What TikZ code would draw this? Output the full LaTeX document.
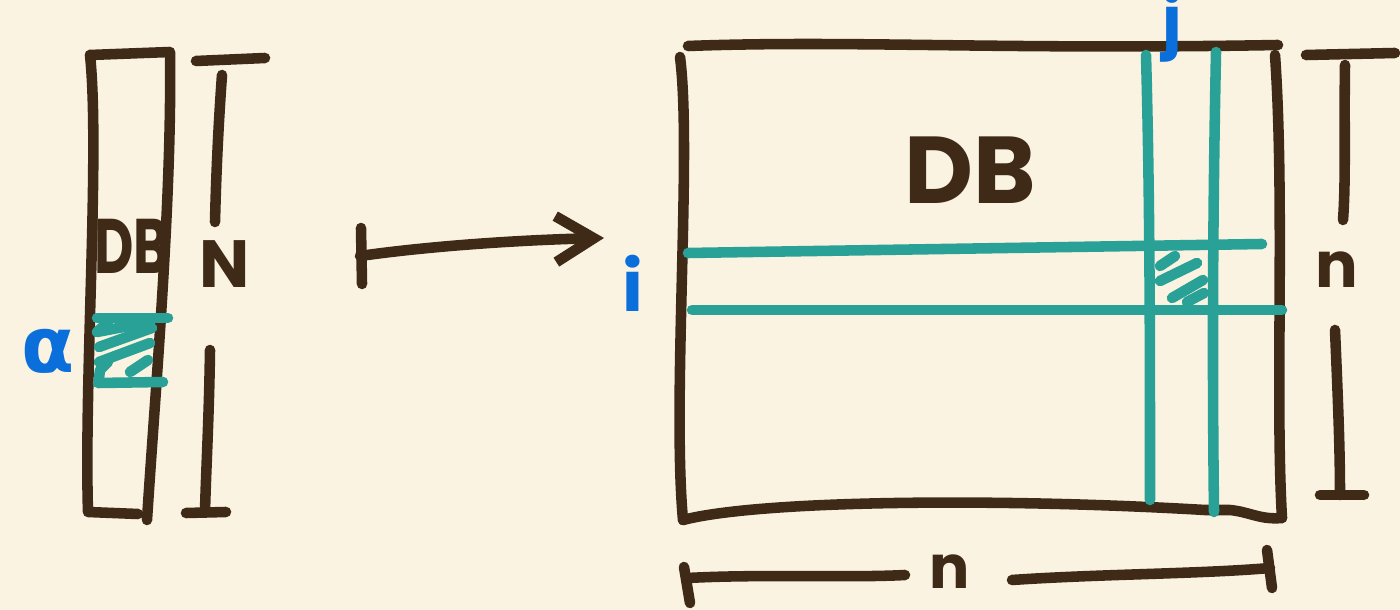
\documentclass[tikz,border=0pt]{standalone}
\usepackage{fontspec}
\newfontfamily\handfont{Poppins}
\newfontfamily\greekfont{DejaVu Sans}
\definecolor{Bgcol}{HTML}{FAF3E1}
\definecolor{Inkcol}{HTML}{3F2A18}
\definecolor{Gridcol}{HTML}{2AA196}
\definecolor{Idxcol}{HTML}{0A6EDB}
\usetikzlibrary{arrows.meta, positioning}
\tikzset{
    >=Stealth,
    ink/.style={draw=Inkcol, line width=3pt, line cap=round, line join=round},
    gridline/.style={draw=Gridcol, line width=3pt, line cap=round, line join=round},
    hand/.style={text=Inkcol, font=\handfont\bfseries, inner sep=0pt},
    index/.style={text=Idxcol, font=\handfont\bfseries, inner sep=0pt}
}

\begin{document}
\begin{tikzpicture}[x=0.01cm, y=-0.01cm]
    % Paper
    \fill[Bgcol] (0,0) rectangle (1400,610);
    \useasboundingbox (0,0) rectangle (1400,610);

    % Left column (the whole DB as one vector)
    \coordinate (colTL) at (90,55);
    \coordinate (colTR) at (170,52);
    \coordinate (colBR) at (147,520);
    \coordinate (colBL) at (88,512);
    \draw[ink] (colTL) -- (colTR) .. controls (172,200) and (156,380) .. (colBR);
    \draw[ink] (colTL) .. controls (100,150) and (84,380) .. (colBL) -- (138,514);

    % Element alpha inside the column
    \coordinate (aTL) at (97,318);
    \coordinate (aTR) at (168,318);
    \coordinate (aBL) at (98,383);
    \coordinate (aBR) at (163,382);
    \draw[gridline] (aTL) -- (aTR);
    \draw[gridline] (aBL) -- (aBR);
    \draw[gridline] (108,322) -- (97,332) -- (150,322);
    \draw[gridline] (99,347) -- (152,328);
    \draw[gridline] (99,362) -- (150,343);
    \draw[gridline] (99,378) -- (100,370) -- (108,362);
    \draw[gridline] (130,372) -- (148,360);
    \node[text=Idxcol, font=\greekfont\bfseries\fontsize{22}{22}\selectfont, inner sep=0pt] (alpha) at (48,351) {α};

    % Labels of the column
    \node[hand, font=\handfont\bfseries\fontsize{22}{22}\selectfont, xscale=0.7] (dbsmall) at (132,246) {DB};
    \node[hand, font=\handfont\bfseries\fontsize{19}{19}\selectfont] (bigN) at (225,264) {N};

    % N dimension bar
    \coordinate (nTop) at (220,58);
    \coordinate (nBot) at (205,512);
    \draw[ink] (196,61) -- (265,58);
    \draw[ink] (222,75) .. controls (218,130) and (216,180) .. (215,222);
    \draw[ink] (210,350) .. controls (209,420) and (206,470) .. (nBot);
    \draw[ink] (186,513) -- (226,512);

    % Mapping arrow
    \coordinate (arrS) at (360,256);
    \coordinate (arrE) at (604,238);
    \draw[ink] (361,228) -- (362,284);
    \draw[ink, -{Straight Barb[length=0.38cm, width=0.46cm]}]
        (arrS) .. controls (430,246) and (520,240) .. (arrE);

    % Right matrix
    \coordinate (mTL) at (688,46);
    \coordinate (mTR) at (1278,45);
    \coordinate (mBR) at (1282,518);
    \coordinate (mBL) at (683,520);
    \draw[ink] (mTL) .. controls (850,40) and (1000,50) .. (mTR);
    \draw[ink] (680,57) .. controls (692,150) and (672,400) .. (mBL);
    \draw[ink] (mBL) .. controls (760,500) and (1000,498) .. (1205,510)
        -- (1230,510) .. controls (1250,512) and (1260,520) .. (mBR);
    \draw[ink] (1275,55) .. controls (1285,200) and (1275,400) .. (mBR);
    \node[hand, font=\handfont\bfseries\fontsize{27}{27}\selectfont] (dbbig) at (970,170) {DB};

    % Row i and column j
    \draw[gridline] (688,253) -- (1262,244);
    \draw[gridline] (692,310) -- (1282,310);
    \draw[gridline] (1146,55) .. controls (1150,200) and (1150,350) .. (1150,500);
    \draw[gridline] (1216,52) .. controls (1213,200) and (1212,350) .. (1214,512);
    \draw[gridline] (1160,266) -- (1175,256);
    \draw[gridline] (1160,281) -- (1197,263);
    \draw[gridline] (1172,298) -- (1203,280);
    \draw[gridline] (1187,302) -- (1204,293);
    \node[index, font=\handfont\bfseries\fontsize{20}{20}\selectfont, anchor=base] (idxi) at (633,312) {i};
    \node[index, font=\handfont\bfseries\fontsize{19}{19}\selectfont, anchor=base] (idxj) at (1172,45) {j};

    % n dimension bar (right)
    \draw[ink] (1306,55) -- (1395,53);
    \draw[ink] (1345,65) .. controls (1344,120) and (1346,180) .. (1343,220);
    \node[hand, font=\handfont\bfseries\fontsize{18}{18}\selectfont] (nright) at (1337,270) {n};
    \draw[ink] (1335,330) .. controls (1338,400) and (1340,450) .. (1340,495);
    \draw[ink] (1320,495) -- (1364,495);

    % n dimension bar (bottom)
    \draw[ink] (684,567) -- (690,603);
    \draw[ink] (688,578) .. controls (760,574) and (850,578) .. (905,575);
    \node[hand, font=\handfont\bfseries\fontsize{17}{17}\selectfont] (nbottom) at (950,572) {n};
    \draw[ink] (1012,580) .. controls (1100,574) and (1200,574) .. (1270,568);
    \draw[ink] (1267,550) -- (1272,588);
\end{tikzpicture}
\end{document}
